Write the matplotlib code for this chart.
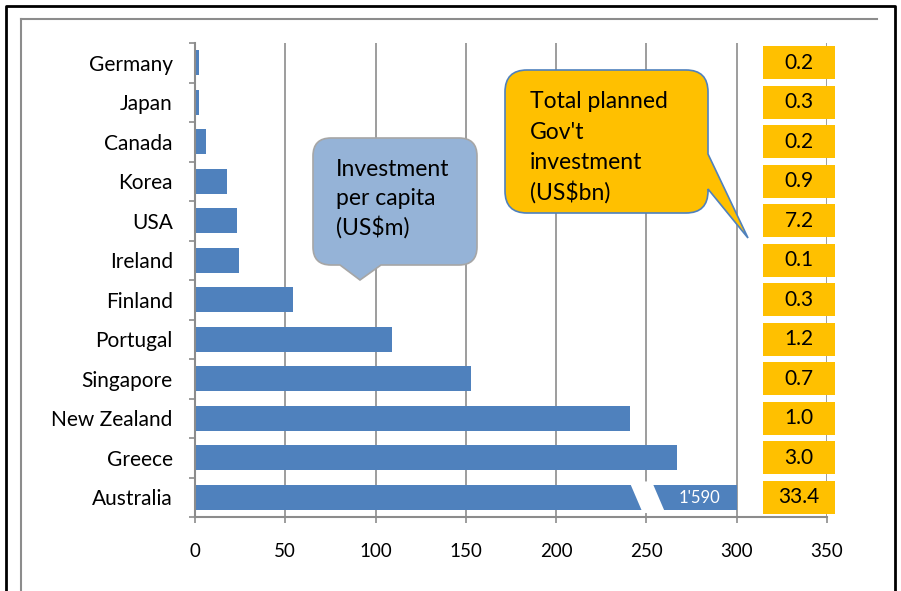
import matplotlib
matplotlib.use("Agg")
import matplotlib.pyplot as plt
from matplotlib.path import Path
from matplotlib.patches import PathPatch, Rectangle, Polygon
from matplotlib.lines import Line2D

plt.rcParams['font.family'] = ['Lato', 'DejaVu Sans']

countries = ["Germany", "Japan", "Canada", "Korea", "USA", "Ireland", "Finland",
             "Portugal", "Singapore", "New Zealand", "Greece", "Australia"]
per_capita = [2.2, 2.0, 6.0, 17.5, 23.0, 24.3, 54.0, 109.0, 153.0, 241.0, 267.0, 1590.0]
gov_invest = [0.2, 0.3, 0.2, 0.9, 7.2, 0.1, 0.3, 1.2, 0.7, 1.0, 3.0, 33.4]
australia_label = "1'590"
x_ticks = [0, 50, 100, 150, 200, 250, 300, 350]

W, H = 901, 591
fig = plt.figure(figsize=(W / 100, H / 100), dpi=100)
ax = fig.add_axes([195 / W, 1 - 517 / H, (827 - 195) / W, (517 - 43) / H])

BLUE = '#4F81BD'
GRID = '#8C8C8C'
AXMAX = 300
y = list(range(len(countries)))
shown = [min(v, AXMAX) for v in per_capita]

ax.set_xlim(0, 350)
ax.set_ylim(len(countries) - 0.5, -0.5)
ax.set_axisbelow(True)
ax.xaxis.grid(True, color=GRID, linewidth=1.2)
ax.barh(y, shown, height=0.63, color=BLUE, zorder=2)

# axis break on clipped bar
for yi, v in zip(y, per_capita):
    if v > AXMAX:
        bk = 244
        hh = 0.40
        gap = Polygon([(bk - 3.5, yi - hh), (bk + 9.0, yi - hh), (bk + 16.5, yi + hh), (bk + 4.0, yi + hh)],
                      closed=True, facecolor='white', edgecolor='none', zorder=3)
        ax.add_patch(gap)
        ax.text(AXMAX - 9, yi + 0.02, australia_label, color='white', ha='right', va='center',
                fontsize=12, zorder=4)

ax.set_xticks(x_ticks)
ax.set_xticklabels([str(t) for t in x_ticks])
ax.set_yticks(y)
ax.set_yticklabels(countries)
ax.set_yticks([i - 0.5 for i in range(len(countries) + 1)], minor=True)
ax.tick_params(axis='y', which='major', length=0, pad=16, labelsize=15, labelcolor='black')
ax.tick_params(axis='y', which='minor', length=4.5, width=1.2, color=GRID, direction='out')
ax.tick_params(axis='x', which='major', length=4.5, width=1.2, color=GRID, direction='out',
               pad=14, labelsize=13.5, labelcolor='black')
for s in ['top', 'right']:
    ax.spines[s].set_visible(False)
for s in ['left', 'bottom']:
    ax.spines[s].set_color(GRID)
    ax.spines[s].set_linewidth(1.5)

# orange value boxes
for yi, g in zip(y, gov_invest):
    ax.add_patch(Rectangle((314.5, yi - 0.42), 40, 0.84, facecolor='#FFC000', edgecolor='none',
                           clip_on=False, zorder=5))
    ax.text(334.5, yi, f"{g:.1f}", ha='center', va='center', fontsize=15, color='black',
            zorder=6, clip_on=False)


def fx(px, py):
    return (px / W, 1 - py / H)


def callout(x0, y0, x1, y1, r, pointer, side):
    pts = []
    codes = []

    def mv(p):
        pts.append(fx(*p)); codes.append(Path.MOVETO)

    def ln(p):
        pts.append(fx(*p)); codes.append(Path.LINETO)

    def cv(c, p):
        pts.append(fx(*c)); codes.append(Path.CURVE3)
        pts.append(fx(*p)); codes.append(Path.CURVE3)

    mv((x0 + r, y0))
    ln((x1 - r, y0))
    cv((x1, y0), (x1, y0 + r))
    if side == 'right':
        a, b, tip = pointer
        ln((x1, a)); ln(tip); ln((x1, b))
    ln((x1, y1 - r))
    cv((x1, y1), (x1 - r, y1))
    if side == 'bottom':
        a, b, tip = pointer
        ln((b, y1)); ln(tip); ln((a, y1))
    ln((x0 + r, y1))
    cv((x0, y1), (x0, y1 - r))
    ln((x0, y0 + r))
    cv((x0, y0), (x0 + r, y0))
    pts.append(fx(x0 + r, y0)); codes.append(Path.CLOSEPOLY)
    return Path(pts, codes)


p1 = callout(313, 138, 477, 265, 18, (340, 381, (360, 280)), 'bottom')
fig.add_artist(PathPatch(p1, facecolor='#95B3D7', edgecolor='#A6A6A6', linewidth=1.2,
                         transform=fig.transFigure, zorder=10))
for txt, by in [("Investment", 176), ("per capita", 205), ("(US$m)", 235)]:
    fig.text(336 / W, 1 - by / H, txt, fontsize=16.5, ha='left', va='baseline', zorder=11)

p2 = callout(505, 70, 708, 213, 22, (154, 189, (748, 238)), 'right')
fig.add_artist(PathPatch(p2, facecolor='#FFC000', edgecolor='#4F81BD', linewidth=1.2,
                         transform=fig.transFigure, zorder=10))
for txt, by in [("Total planned", 108), ("Gov't", 139), ("investment", 169), ("(US$bn)", 200)]:
    fig.text(530 / W, 1 - by / H, txt, fontsize=16.5, ha='left', va='baseline', zorder=11)

# frames
fig.add_artist(Line2D([21 / W, 877 / W], [1 - 19 / H, 1 - 19 / H], color='#8C8C8C', linewidth=1.5,
                      transform=fig.transFigure))
fig.add_artist(Line2D([21 / W, 21 / W], [1 - 19 / H, 0], color='#8C8C8C', linewidth=1.5,
                      transform=fig.transFigure))
fig.add_artist(Line2D([6 / W, 6 / W, 895 / W, 895 / W], [0, 1 - 6 / H, 1 - 6 / H, 0], color='black',
                      linewidth=2.0, transform=fig.transFigure))

fig.savefig("out.png", dpi=100)
